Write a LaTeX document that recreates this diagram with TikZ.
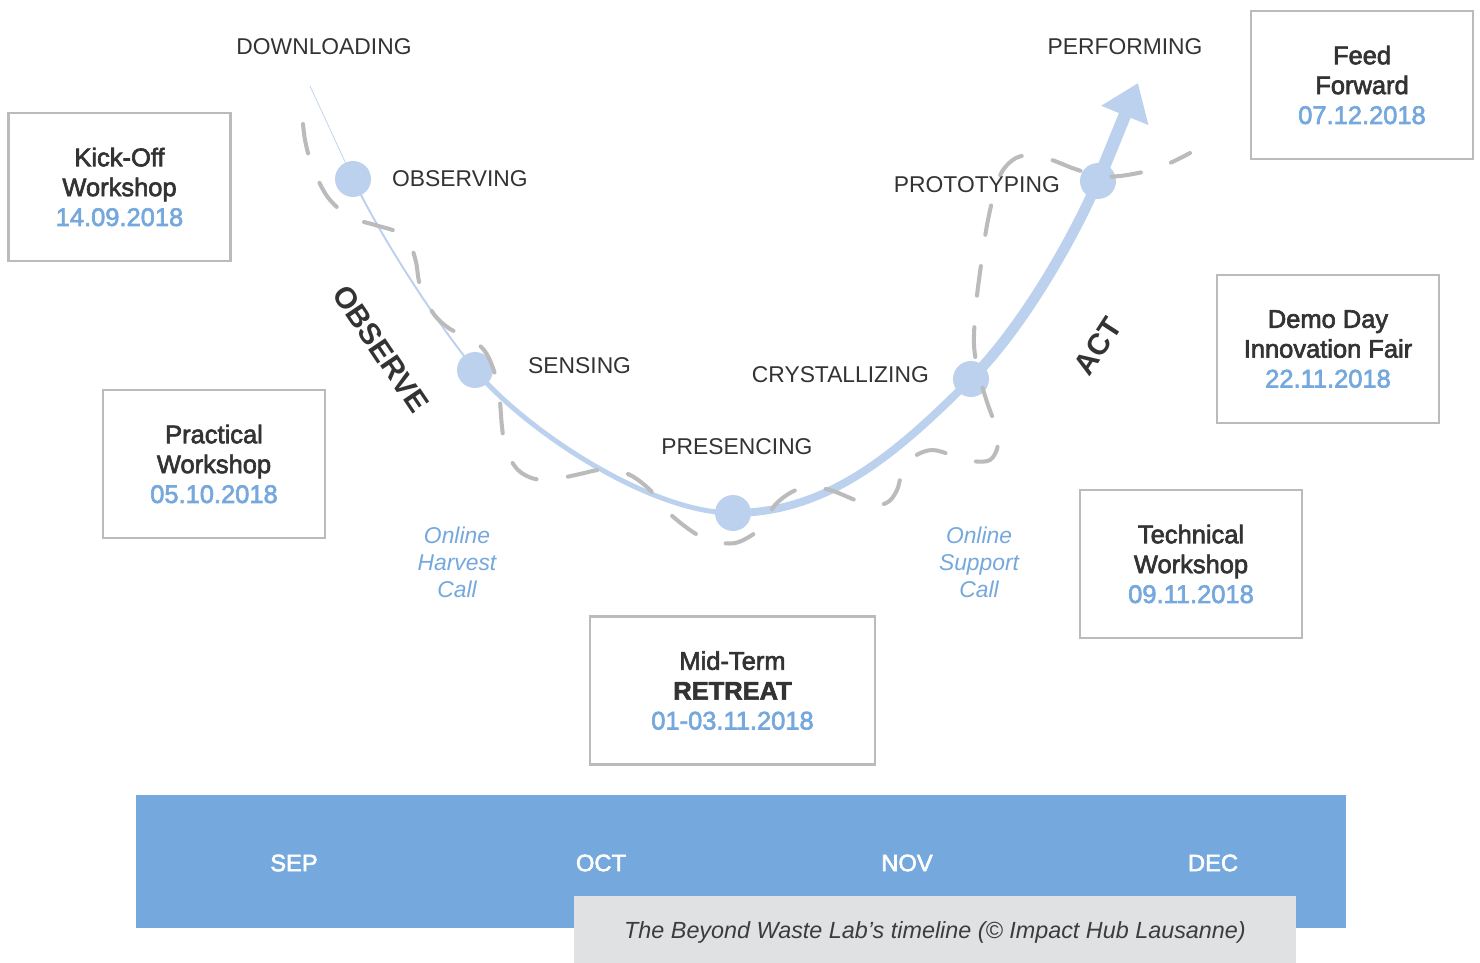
\documentclass[tikz,border=0pt]{standalone}
\usepackage{fontspec}
\setmainfont{Liberation Sans}
\newfontfamily\medfont{Liberation Sans}[FakeBold=2.5]
\usetikzlibrary{arrows.meta}
\definecolor{custom-blue}{RGB}{117, 168, 220}
\definecolor{custom-lightblue}{RGB}{188, 209, 237}
\definecolor{custom-gray}{RGB}{187, 187, 187}
\definecolor{custom-text}{RGB}{51, 51, 51}
\definecolor{custom-caption}{RGB}{224, 225, 227}
\newcommand{\eventdate}[1]{{\color{custom-blue}#1}}

\begin{document}
\begin{tikzpicture}[x=0.02cm, y=-0.02cm,
    event/.style={draw=custom-gray, line width=1.2pt, minimum width=4.44cm, minimum height=2.96cm,
      inner sep=0pt, align=center, text=custom-text, font=\medfont\fontsize{14.5}{17}\selectfont},
    stage/.style={text=custom-text, font=\fontsize{13}{15}\selectfont},
    phase/.style={text=custom-text, font=\bfseries\fontsize{17}{19}\selectfont},
    call/.style={align=center, text=custom-blue, font=\itshape\fontsize{13}{15.3}\selectfont},
    month/.style={text=white, font=\medfont\fontsize{13.5}{15}\selectfont},
    dot/.style={circle, fill=custom-lightblue, minimum size=0.72cm, inner sep=0pt},
    curve/.style={draw=custom-lightblue},
    loop/.style={draw=custom-gray, line width=2.3pt, line cap=round, dash pattern=on 17pt off 18pt}]
\fill[white] (0,0) rectangle (1480,963);
\useasboundingbox (0,0) rectangle (1480,963);

% timeline
\fill[custom-blue] (136,795) rectangle (1346,928);
\node[month] (sep) at (294,863) {SEP};
\node[month] (oct) at (601,863) {OCT};
\node[month] (nov) at (907,863) {NOV};
\node[month] (dec) at (1213,863) {DEC};
\fill[custom-caption] (574,896) rectangle (1296,963);
\node[text={rgb,255:red,60;green,60;blue,60}, font=\itshape\fontsize{13.3}{15}\selectfont] (caption) at (935,932)
  {The Beyond Waste Lab’s timeline (© Impact Hub Lausanne)};

% the U
\coordinate (start) at (310,86);
\coordinate (obs) at (353,179);
\coordinate (sens) at (475,370);
\coordinate (pres) at (733,513);
\coordinate (crys) at (971,379);
\coordinate (proto) at (1098,181);
\coordinate (tip) at (1138,83);
\draw[curve, line width=0.4pt] (start) -- (obs);
\draw[curve, line width=1.1pt] (obs) .. controls (383,241) and (435,320) .. (sens);
\draw[curve, line width=2.8pt] (sens) .. controls (525,430) and (650,513) .. (pres);
\draw[curve, line width=4.5pt] (pres) .. controls (830,513) and (900,450) .. (crys);
\draw[curve, line width=6pt] (crys) .. controls (1020,330) and (1070,245) .. (proto);
\draw[curve, line width=7.2pt, -{Triangle[width=0.97cm, length=0.7cm]}] (proto) -- (tip);

\node[dot] (obs-dot) at (obs) {};
\node[dot] (sens-dot) at (sens) {};
\node[dot] (pres-dot) at (pres) {};
\node[dot] (crys-dot) at (crys) {};
\node[dot] (proto-dot) at (proto) {};

% dashed loop
\draw[loop] plot[smooth, tension=0.55] coordinates {
  (303,124) (305,140) (310,160) (318,180) (330,200) (350,217) (375,225) (397,232)
  (410,245) (416,262) (420,285) (433,313) (450,329) (468,337) (484,350) (493,368)
  (499,392) (502,427) (506,450) (518,470) (535,479) (555,479) (580,474) (598,470)
  (615,470) (632,476) (650,490) (668,512) (690,530) (710,541) (735,543) (755,533)
  (765,522) (775,505) (790,493) (807,487) (830,490) (855,500) (872,506) (888,502)
  (897,490) (903,470) (915,456) (932,450) (952,455) (972,461) (990,460) (998,445)
  (995,425) (987,402) (979,375) (974,345) (976,305) (981,265) (987,225) (995,190)
  (1003,170) (1016,158) (1032,155) (1052,160) (1075,169) (1100,176) (1120,176)
  (1147,171) (1170,163) (1190,153)};

% stages
\node[stage] (downloading) at (324,47) {DOWNLOADING};
\node[stage] (performing) at (1125,47) {PERFORMING};
\node[stage, anchor=west] (observing) at (386,179) {OBSERVING};
\node[stage, anchor=west] (sensing) at (522,366) {SENSING};
\node[stage] (presencing) at (737,447) {PRESENCING};
\node[stage, anchor=east] (crystallizing) at (935,375) {CRYSTALLIZING};
\node[stage, anchor=east] (prototyping) at (1066,185) {PROTOTYPING};
\node[phase, rotate=-56] (observe) at (381,349) {OBSERVE};
\node[phase, rotate=57] (act) at (1098,346) {ACT};

\node[call] (harvest) at (457,562) {Online\\Harvest\\Call};
\node[call] (support) at (979,562) {Online\\Support\\Call};

% events
\node[event] (kickoff) at (119.5,187) {Kick-Off\\Workshop\\\eventdate{14.09.2018}};
\node[event] (practical) at (214,464) {Practical\\Workshop\\\eventdate{05.10.2018}};
\node[event, minimum width=5.7cm] (retreat) at (732.5,690.5) {Mid-Term\\{\bfseries RETREAT}\\\eventdate{01-03.11.2018}};
\node[event] (technical) at (1191,564) {Technical\\Workshop\\\eventdate{09.11.2018}};
\node[event] (demoday) at (1328,349) {Demo Day\\Innovation Fair\\\eventdate{22.11.2018}};
\node[event] (feedforward) at (1362,85) {Feed\\Forward\\\eventdate{07.12.2018}};
\end{tikzpicture}
\end{document}
